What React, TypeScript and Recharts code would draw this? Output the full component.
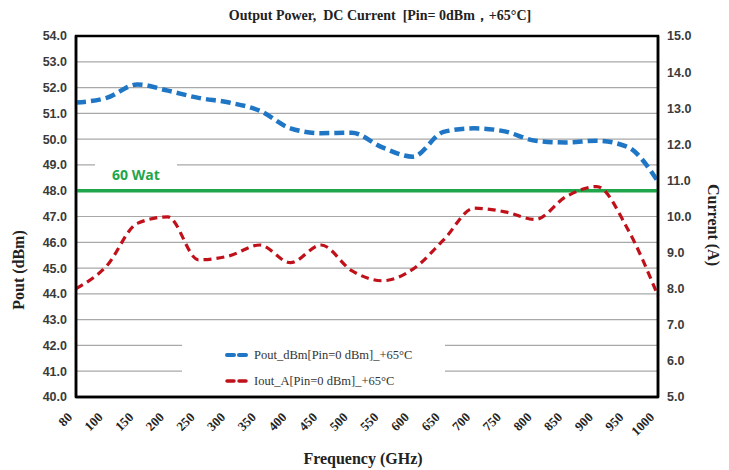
import React from "react";
import {
  LineChart,
  Line,
  XAxis,
  YAxis,
  CartesianGrid,
  ReferenceLine,
  ReferenceArea,
  Legend,
  Label,
} from "recharts";

// 주파수 (GHz)
const freqs = [
  "80", "100", "150", "200", "250", "300", "350", "400", "450", "500",
  "550", "600", "650", "700", "750", "800", "850", "900", "950", "1000",
];

// Pout (dBm) — 왼쪽 축
const pout = [
  51.42, 51.6, 52.12, 51.88, 51.6, 51.42, 51.1, 50.42, 50.23, 50.25,
  49.68, 49.32, 50.28, 50.42, 50.3, 49.94, 49.87, 49.94, 49.7, 48.35,
];

// Iout (A) — 오른쪽 축
const iout = [
  8.0, 8.63, 9.81, 9.99, 8.8, 8.91, 9.21, 8.72, 9.21, 8.5,
  8.22, 8.54, 9.35, 10.23, 10.13, 9.92, 10.55, 10.83, 9.67, 7.8,
];

const leftTicks = [40, 41, 42, 43, 44, 45, 46, 47, 48, 49, 50, 51, 52, 53, 54];
const rightTicks = [5, 6, 7, 8, 9, 10, 11, 12, 13, 14, 15];

const limitLevel = 48;
const limitLabel = "60 Wat";

const seriesNames = {
  pout: "Pout_dBm[Pin=0 dBm]_+65°C",
  iout: "Iout_A[Pin=0 dBm]_+65°C",
};

const BLUE = "#1f76c4";
const RED = "#c0101a";
const GREEN = "#1fa64b";

const data = freqs.map((f, i) => ({ freq: f, pout: pout[i], iout: iout[i] }));

const serif = "'Liberation Serif', 'Times New Roman', serif";
const narrow = "'Liberation Sans Narrow', 'Liberation Sans', Arial, sans-serif";

const XTick = (props: any) => {
  const { x, y, payload } = props;
  return (
    <text
      transform={`translate(${x - 3},${y + 19}) rotate(-45)`}
      textAnchor="end"
      fontFamily={serif}
      fontWeight="bold"
      fontSize={13}
      fill="#222"
    >
      {payload.value}
    </text>
  );
};

const LimitLabel = (props: any) => {
  const vb = props.viewBox || {};
  return (
    <g>
      <rect x={vb.x + 19} y={vb.y - 34} width={82} height={28} fill="#fff" />
      <text
        x={vb.x + 36}
        y={vb.y - 11}
        fill={GREEN}
        fontFamily="'Open Sans', 'Noto Sans', sans-serif"
        fontWeight="bold"
        fontSize={14}
      >
        {limitLabel}
      </text>
    </g>
  );
};

const Dashes = ({ color, w }: { color: string; w: number }) => (
  <svg width={24} height={8} style={{ marginRight: 5 }}>
    <line x1={2} y1={4} x2={9} y2={4} stroke={color} strokeWidth={w} strokeLinecap="round" />
    <line x1={14} y1={4} x2={21} y2={4} stroke={color} strokeWidth={w} strokeLinecap="round" />
  </svg>
);

const renderLegend = () => (
  <div style={{ paddingLeft: 43, paddingTop: 14 }}>
    <div style={{ display: "flex", alignItems: "center", height: 26 }}>
      <Dashes color={BLUE} w={4} />
      <span style={{ fontFamily: serif, fontSize: 12.5, color: "#333" }}>{seriesNames.pout}</span>
    </div>
    <div style={{ display: "flex", alignItems: "center", height: 26 }}>
      <Dashes color={RED} w={3.5} />
      <span style={{ fontFamily: serif, fontSize: 12.5, color: "#333" }}>{seriesNames.iout}</span>
    </div>
  </div>
);

export default function App() {
  return (
    <div style={{ position: "absolute", left: 0, top: 0, width: 729, height: 470, background: "#fff" }}>
      <div
        style={{
          position: "absolute",
          top: 7,
          left: 0,
          width: 760,
          textAlign: "center",
          fontFamily: serif,
          fontWeight: "bold",
          fontSize: 14,
          color: "#222",
        }}
      >
        Output Power,&nbsp; DC Current&nbsp; [Pin= 0dBm，+65°C]
      </div>
      <LineChart
        width={729}
        height={470}
        data={data}
        margin={{ top: 36, right: 0, left: 0, bottom: 0 }}
      >
        <CartesianGrid yAxisId="left" vertical={false} stroke="#a8a8a8" strokeWidth={1.2} />
        <XAxis
          dataKey="freq"
          height={73}
          tick={<XTick />}
          tickLine={false}
          tickSize={0}
          axisLine={{ stroke: "#000", strokeWidth: 2.5 }}
          interval={0}
        >
          <Label
            content={(p: any) => {
              const vb = p.viewBox;
              return (
                <text
                  x={vb.x + vb.width / 2 - 4}
                  y={vb.y + 67}
                  textAnchor="middle"
                  fontFamily={serif}
                  fontWeight="bold"
                  fontSize={16}
                  fill="#222"
                >
                  Frequency (GHz)
                </text>
              );
            }}
          />
        </XAxis>
        <YAxis
          yAxisId="left"
          width={76}
          domain={[40, 54]}
          ticks={leftTicks}
          interval={0}
          tickFormatter={(v: number) => v.toFixed(1)}
          tick={{ fontFamily: narrow, fontWeight: "bold", fontSize: 12.5, fill: "#3a3a3a" }}
          tickLine={false}
          tickSize={0}
          tickMargin={9}
          axisLine={{ stroke: "#000", strokeWidth: 2.5 }}
        >
          <Label
            content={(p: any) => {
              const vb = p.viewBox;
              const cx = vb.x + 24;
              const cy = vb.y + 234;
              return (
                <text
                  x={cx}
                  y={cy}
                  transform={`rotate(-90 ${cx} ${cy})`}
                  textAnchor="middle"
                  fontFamily={serif}
                  fontWeight="bold"
                  fontSize={16}
                  fill="#222"
                >
                  Pout (dBm)
                </text>
              );
            }}
          />
        </YAxis>
        <YAxis
          yAxisId="right"
          orientation="right"
          width={71}
          domain={[5, 15]}
          ticks={rightTicks}
          interval={0}
          tickFormatter={(v: number) => v.toFixed(1)}
          tick={{ fontFamily: narrow, fontWeight: "bold", fontSize: 12.5, fill: "#3a3a3a" }}
          tickLine={false}
          tickSize={0}
          tickMargin={9}
          axisLine={{ stroke: "#000", strokeWidth: 2.5 }}
        >
          <Label
            content={(p: any) => {
              const vb = p.viewBox;
              const cx = vb.x + 50;
              const cy = vb.y + 189;
              return (
                <text
                  x={cx}
                  y={cy}
                  transform={`rotate(90 ${cx} ${cy})`}
                  textAnchor="middle"
                  fontFamily={serif}
                  fontWeight="bold"
                  fontSize={16}
                  fill="#222"
                >
                  Current (A)
                </text>
              );
            }}
          />
        </YAxis>
        <ReferenceLine
          yAxisId="left"
          y={limitLevel}
          stroke={GREEN}
          strokeWidth={3.5}
          label={<LimitLabel />}
        />
        <Line
          yAxisId="left"
          type="monotone"
          dataKey="pout"
          name={seriesNames.pout}
          stroke={BLUE}
          strokeWidth={4.5}
          strokeDasharray="10 5"
          dot={false}
          isAnimationActive={false}
        />
        <Line
          yAxisId="right"
          type="monotone"
          dataKey="iout"
          name={seriesNames.iout}
          stroke={RED}
          strokeWidth={3.2}
          strokeDasharray="8 5"
          dot={false}
          isAnimationActive={false}
        />
        <ReferenceArea
          yAxisId="left"
          y1={40}
          y2={54}
          fill="none"
          stroke="#000"
          strokeWidth={2.5}
        />
        <Legend
          layout="vertical"
          align="center"
          verticalAlign="middle"
          content={renderLegend}
          wrapperStyle={{
            position: "absolute",
            left: 182,
            top: 328,
            width: 263,
            height: 66,
            background: "#fff",
          }}
        />
      </LineChart>
    </div>
  );
}
